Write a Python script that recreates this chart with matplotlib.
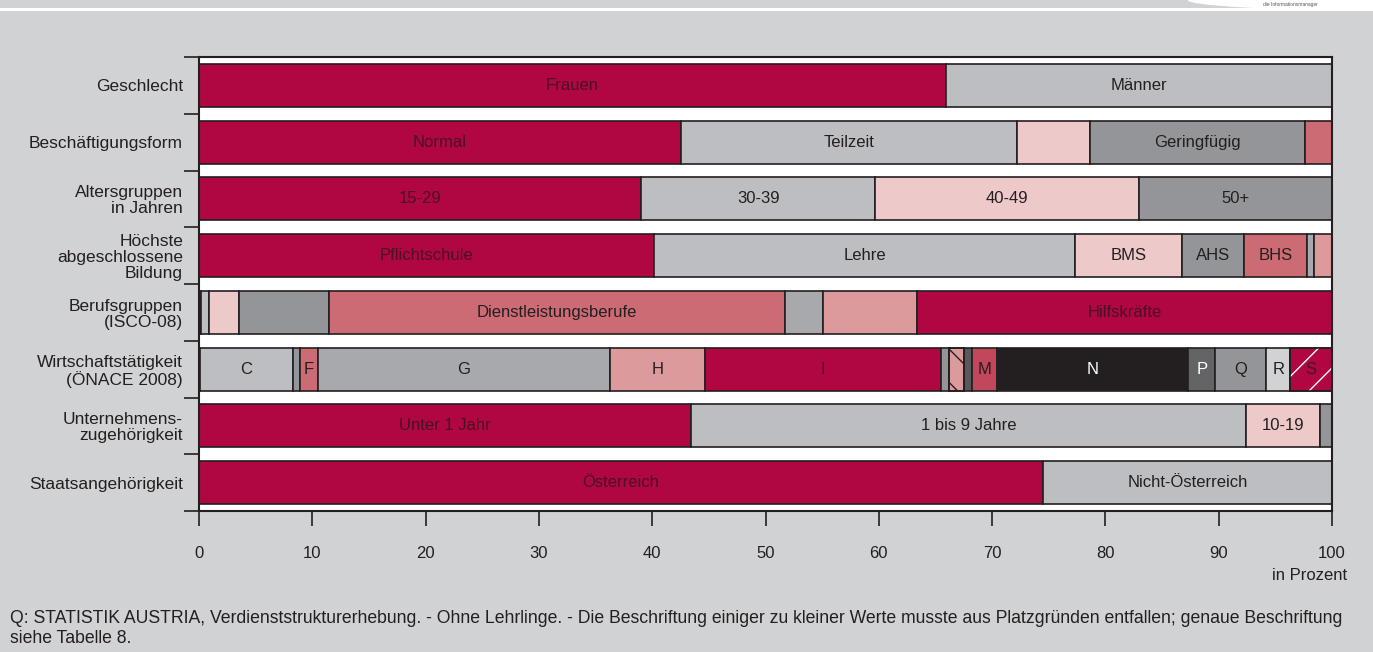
import matplotlib

matplotlib.use("Agg")
import matplotlib.pyplot as plt
from matplotlib.patches import Rectangle, Ellipse

plt.rcParams["font.family"] = ["Liberation Sans", "DejaVu Sans"]

# Zeilenbeschriftungen (von oben nach unten)
rows = [
    "Geschlecht",
    "Beschäftigungsform",
    "Altersgruppen\nin Jahren",
    "Höchste\nabgeschlossene\nBildung",
    "Berufsgruppen\n(ISCO-08)",
    "Wirtschaftstätigkeit\n(ÖNACE 2008)",
    "Unternehmens-\nzugehörigkeit",
    "Staatsangehörigkeit",
]

# Anteile in Prozent, je Zeile
geschlecht = [65.9, 34.1]
geschlecht_lbl = ["Frauen", "Männer"]

beschaeftigung = [42.5, 29.7, 6.4, 19.0, 2.4]
beschaeftigung_lbl = ["Normal", "Teilzeit", "", "Geringfügig", ""]

alter = [39.0, 20.7, 23.3, 17.0]
alter_lbl = ["15-29", "30-39", "40-49", "50+"]

bildung = [40.2, 37.1, 9.5, 5.4, 5.6, 0.6, 1.6]
bildung_lbl = ["Pflichtschule", "Lehre", "BMS", "AHS", "BHS", "", ""]

beruf = [0.15, 0.75, 2.6, 8.0, 40.2, 3.4, 8.3, 36.6]
beruf_lbl = ["", "", "", "", "Dienstleistungsberufe", "", "", "Hilfskräfte"]

wirtschaft = [0.1, 8.2, 0.6, 1.6, 25.8, 8.4, 20.8, 0.7, 1.3, 0.7, 2.2,
              16.9, 2.4, 4.5, 2.1, 3.7]
wirtschaft_lbl = ["", "C", "", "F", "G", "H", "I", "", "", "", "M",
                  "N", "P", "Q", "R", "S"]

zugehoerigkeit = [43.4, 49.0, 6.5, 1.1]
zugehoerigkeit_lbl = ["Unter 1 Jahr", "1 bis 9 Jahre", "10-19", ""]

staat = [74.5, 25.5]
staat_lbl = ["Österreich", "Nicht-Österreich"]

# Farben
CR = "#B00641"   # karmin
LG = "#BDBEC1"   # hellgrau
LP = "#EEC9C9"   # hellrosa
GR = "#939598"   # grau
MG = "#A7A9AC"   # mittelgrau
SA = "#CC6B74"   # lachs
PK = "#DC9A9C"   # rosa
DR = "#C2465C"   # dunkles lachs
BK = "#231F20"   # schwarz
DG = "#636466"   # dunkelgrau
DG2 = "#58595B"
RL = "#D1D2D4"
BG = "#D1D2D4"

data = [
    (geschlecht, geschlecht_lbl, [CR, LG], {}),
    (beschaeftigung, beschaeftigung_lbl, [CR, LG, LP, GR, SA], {}),
    (alter, alter_lbl, [CR, LG, LP, GR], {}),
    (bildung, bildung_lbl, [CR, LG, LP, GR, SA, MG, PK], {}),
    (beruf, beruf_lbl, [CR, LG, LP, GR, SA, MG, PK, CR], {}),
    (wirtschaft, wirtschaft_lbl,
     [GR, LG, GR, SA, MG, PK, CR, GR, PK, DG2, DR, BK, DG, GR, RL, CR],
     {8: ("\\", BK), 15: ("/", "white")}),
    (zugehoerigkeit, zugehoerigkeit_lbl, [CR, LG, LP, GR], {}),
    (staat, staat_lbl, [CR, LG], {}),
]

fig = plt.figure(figsize=(13.73, 6.52), dpi=100, facecolor=BG)

# Kopfleiste
fig.patches.append(Rectangle((0, 1 - 11 / 652), 1, 3 / 652, transform=fig.transFigure,
                             facecolor="white", edgecolor="none"))
fig.patches.append(Ellipse((1.0, 1.0), 0.27, 0.032, transform=fig.transFigure,
                           facecolor="white", edgecolor="none"))
fig.text(0.94, 0.9975, "die Informationsmanager", fontsize=3.5, color="#555555",
         ha="center", va="top")

ax = fig.add_axes([199 / 1373, 1 - 511 / 652, (1332 - 199) / 1373, (511 - 57) / 652])
ax.set_facecolor("white")

height = 0.76
for i, (vals, lbls, cols, hatches) in enumerate(data):
    left = 0.0
    for j, (v, lab, c) in enumerate(zip(vals, lbls, cols)):
        ax.barh(i, v, left=left, height=height, color=c, edgecolor=BK, linewidth=1.2, zorder=2)
        if j in hatches:
            h, hc = hatches[j]
            ax.barh(i, v, left=left, height=height, fill=False, edgecolor=hc,
                    hatch=h, linewidth=0, zorder=3)
            ax.barh(i, v, left=left, height=height, fill=False, edgecolor=BK,
                    linewidth=1.2, zorder=4)
        if lab:
            if c == CR:
                tc = "#4A1024"
            elif c in (BK, DG):
                tc = "white"
            else:
                tc = BK
            ax.text(left + v / 2, i, lab, ha="center", va="center", fontsize=12,
                    color=tc, zorder=5)
        left += v

ax.set_xlim(0, 100)
ax.set_ylim(len(rows) - 0.5, -0.5)

ax.set_xticks(range(0, 101, 10))
ax.tick_params(axis="x", direction="out", length=11, width=1.2, pad=14,
               labelsize=12, colors=BK)
ax.set_yticks([k - 0.5 for k in range(len(rows) + 1)])
ax.set_yticklabels([])
ax.tick_params(axis="y", which="major", direction="out", length=11, width=1.2, colors=BK)
ax.set_yticks(range(len(rows)), minor=True)
ax.set_yticklabels(rows, minor=True, fontsize=12.5, linespacing=1.08,
                   multialignment="right")
ax.tick_params(axis="y", which="minor", length=0, pad=11.5, colors=BK)
for sp in ax.spines.values():
    sp.set_color(BK)
    sp.set_linewidth(1.5)

fig.text(1347 / 1373, 1 - 576 / 652, "in Prozent", ha="right", va="center",
         fontsize=12, color=BK)

fig.text(10 / 1373, 1 - 628.5 / 652,
         "Q: STATISTIK AUSTRIA, Verdienststrukturerhebung. - Ohne Lehrlinge. - "
         "Die Beschriftung einiger zu kleiner Werte musste aus Platzgründen entfallen; "
         "genaue Beschriftung\nsiehe Tabelle 8.",
         ha="left", va="center", fontsize=12.7, color=BK, linespacing=1.3)

fig.savefig("out.png", dpi=100, facecolor=BG)
